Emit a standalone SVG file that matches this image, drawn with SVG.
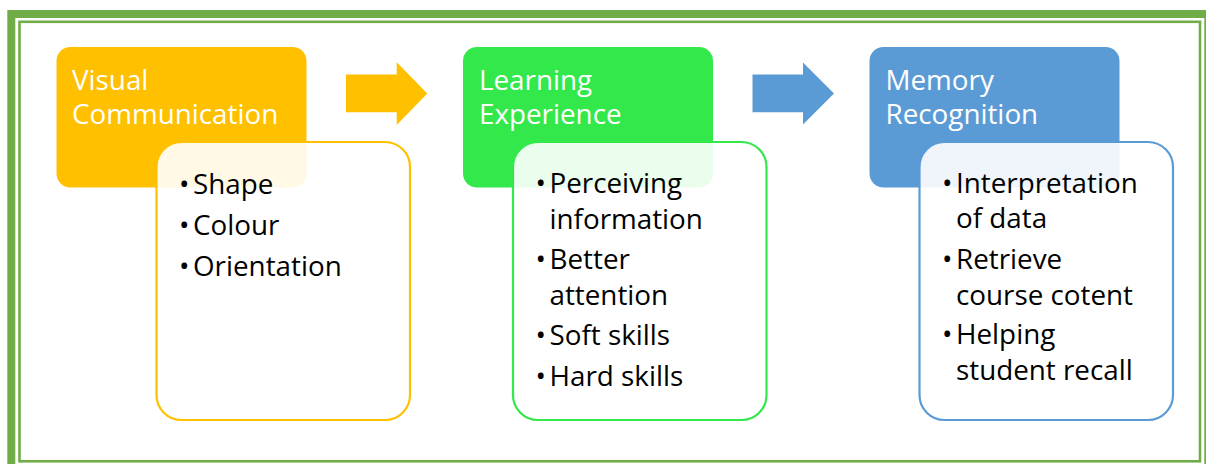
<svg xmlns="http://www.w3.org/2000/svg" width="1206" height="464" viewBox="0 0 1206 464">
  <style>
    .hdr-txt { font-family: "Open Sans", "Noto Sans", sans-serif; font-size: 27.8px; fill: #ffffff; }
    .body-txt { font-family: "Open Sans", "Noto Sans", sans-serif; font-size: 27.8px; fill: #000000; }
    .body { fill: #ffffff; fill-opacity: 0.9; stroke-width: 2.2; }
  </style>
  <rect x="0" y="0" width="1206" height="464" fill="#ffffff"/>
  <g id="frame" fill="none">
    <rect x="11.3" y="14" width="1197" height="460" stroke="#70AD47" stroke-width="8"/>
    <rect x="19.5" y="21.8" width="1180.5" height="439.5" stroke="#70AD47" stroke-width="2.6"/>
  </g>
  <g id="connectors">
    <polygon points="346,74.5 396.7,74.5 396.7,62.3 427.3,93.5 396.7,125 396.7,112.3 346,112.3" fill="#FFC000"/>
    <polygon points="752.5,74.5 803,74.5 803,62.5 834,93.5 803,124.5 803,112.3 752.5,112.3" fill="#5B9BD5"/>
  </g>
  <g id="node-visual-communication">
    <rect x="56.5" y="47" width="250" height="140.5" rx="14" fill="#FFC000"/>
    <text class="hdr-txt" x="72" y="89.5">Visual</text>
    <text class="hdr-txt" x="72" y="124">Communication</text>
  </g>
  <g id="node-visual-communication-details">
    <rect class="body" x="156.5" y="142" width="253.5" height="278" rx="25" stroke="#FFC000"/>
    <text class="body-txt" y="194"><tspan x="179">•</tspan><tspan x="193">Shape</tspan></text>
    <text class="body-txt" y="235"><tspan x="179">•</tspan><tspan x="193">Colour</tspan></text>
    <text class="body-txt" y="276"><tspan x="179">•</tspan><tspan x="193">Orientation</tspan></text>
  </g>
  <g id="node-learning-experience">
    <rect x="463" y="47" width="250" height="140.5" rx="14" fill="#33E84B"/>
    <text class="hdr-txt" x="479" y="89.5">Learning</text>
    <text class="hdr-txt" x="479" y="124">Experience</text>
  </g>
  <g id="node-learning-experience-details">
    <rect class="body" x="513" y="142" width="253.5" height="278" rx="25" stroke="#33E84B"/>
    <text class="body-txt" y="193"><tspan x="535.5">•</tspan><tspan x="549.5">Perceiving</tspan></text>
    <text class="body-txt" x="549.5" y="228.5">information</text>
    <text class="body-txt" y="269"><tspan x="535.5">•</tspan><tspan x="549.5">Better</tspan></text>
    <text class="body-txt" x="549.5" y="305">attention</text>
    <text class="body-txt" y="345"><tspan x="535.5">•</tspan><tspan x="549.5">Soft skills</tspan></text>
    <text class="body-txt" y="385.5"><tspan x="535.5">•</tspan><tspan x="549.5">Hard skills</tspan></text>
  </g>
  <g id="node-memory-recognition">
    <rect x="869.5" y="47" width="250" height="140.5" rx="14" fill="#5B9BD5"/>
    <text class="hdr-txt" x="885.5" y="89.5">Memory</text>
    <text class="hdr-txt" x="885.5" y="124">Recognition</text>
  </g>
  <g id="node-memory-recognition-details">
    <rect class="body" x="919.5" y="142" width="253.5" height="278" rx="25" stroke="#5B9BD5"/>
    <text class="body-txt" y="193"><tspan x="942">•</tspan><tspan x="956">Interpretation</tspan></text>
    <text class="body-txt" x="956" y="227.5">of data</text>
    <text class="body-txt" y="268.5"><tspan x="942">•</tspan><tspan x="956">Retrieve</tspan></text>
    <text class="body-txt" x="956" y="305">course cotent</text>
    <text class="body-txt" y="343.5"><tspan x="942">•</tspan><tspan x="956">Helping</tspan></text>
    <text class="body-txt" x="956" y="380">student recall</text>
  </g>
</svg>
